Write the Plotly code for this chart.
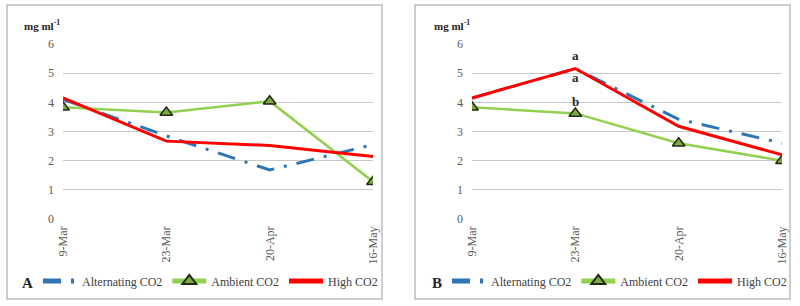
import plotly.graph_objects as go

dates = ["9-Mar", "23-Mar", "20-Apr", "16-May"]
y_ticks = [0, 1, 2, 3, 4, 5, 6]

# Panel A
a_alternating = [4.10, 2.85, 1.68, 2.55]
a_ambient = [3.83, 3.65, 4.04, 1.28]
a_high = [4.15, 2.67, 2.52, 2.14]

# Panel B
b_alternating = [4.15, 5.15, 3.42, 2.60]
b_ambient = [3.83, 3.62, 2.60, 2.00]
b_high = [4.15, 5.16, 3.18, 2.20]

series_names = ["Alternating CO2", "Ambient CO2", "High CO2"]
b_letters = ["a", "a", "b"]

W, H = 800, 306
def px(x):
    return x / W
def py(y):
    return (H - y) / H

SERIF = "Liberation Serif, Times New Roman, serif"
BLUE = "#2E75B6"
GREEN = "#92D050"
RED = "#FF0000"

fig = go.Figure()

def add_panel(alt, amb, high, xa, ya, legend):
    fig.add_trace(go.Scatter(x=dates, y=alt, mode="lines", name=series_names[0],
                             line=dict(color=BLUE, width=3, dash="18px,10px,3px,10px"),
                             xaxis=xa, yaxis=ya, legend=legend))
    fig.add_trace(go.Scatter(x=dates, y=amb, mode="lines+markers", name=series_names[1],
                             line=dict(color=GREEN, width=2.5),
                             marker=dict(symbol="triangle-up", size=11, color="#7FA840",
                                         line=dict(color="#1f2a10", width=1.5)),
                             xaxis=xa, yaxis=ya, legend=legend))
    fig.add_trace(go.Scatter(x=dates, y=high, mode="lines", name=series_names[2],
                             line=dict(color=RED, width=3),
                             xaxis=xa, yaxis=ya, legend=legend))

add_panel(a_alternating, a_ambient, a_high, "x", "y", "legend")
add_panel(b_alternating, b_ambient, b_high, "x2", "y2", "legend2")

ydom = [py(219), py(44)]
axis_common_x = dict(type="category", range=[0, 3], showgrid=False, showline=False,
                     zeroline=False, tickangle=-90, ticks="", automargin=False,
                     ticklabelstandoff=4,
                     tickfont=dict(family=SERIF, size=12, color="#595959"))
axis_common_y = dict(range=[0, 6], tickvals=y_ticks, showgrid=True, gridcolor="#C8C8C8",
                     gridwidth=1, zeroline=False, showline=False, ticks="", automargin=False,
                     ticklabelstandoff=8,
                     tickfont=dict(family=SERIF, size=12, color="#595959"))

legend_common = dict(orientation="h", xanchor="left", yanchor="middle",
                     font=dict(family=SERIF, size=12, color="#404040"),
                     bgcolor="rgba(0,0,0,0)", itemwidth=34, tracegroupgap=0,
                     itemsizing="constant")

fig.update_layout(
    template="none",
    width=W, height=H,
    margin=dict(l=0, r=0, t=0, b=0, autoexpand=False),
    paper_bgcolor="white", plot_bgcolor="white",
    hovermode=False,
    xaxis=dict(domain=[px(63), px(373)], anchor="y", **axis_common_x),
    yaxis=dict(domain=ydom, anchor="x", **axis_common_y),
    xaxis2=dict(domain=[px(472), px(782)], anchor="y2", **axis_common_x),
    yaxis2=dict(domain=ydom, anchor="x2", **axis_common_y),
    legend=dict(x=px(38), y=py(281), **legend_common),
    legend2=dict(x=px(447), y=py(281), **legend_common),
    showlegend=True,
)

# Panel borders
for x0, x1 in [(7, 382), (415, 790)]:
    fig.add_shape(type="rect", xref="paper", yref="paper",
                  x0=px(x0), x1=px(x1), y0=py(299), y1=py(5),
                  line=dict(color="#BFBFBF", width=1.5), fillcolor="rgba(0,0,0,0)")

# Unit labels
for xpos in [22, 432]:
    fig.add_annotation(xref="paper", yref="paper", x=px(xpos), y=py(25),
                       text="<b>mg ml<sup>-1</sup></b>", showarrow=False,
                       xanchor="left", yanchor="middle",
                       font=dict(family=SERIF, size=11, color="#262626"))

# Panel letters
for xpos, letter in [(27, "A"), (437, "B")]:
    fig.add_annotation(xref="paper", yref="paper", x=px(xpos), y=py(283),
                       text="<b>" + letter + "</b>", showarrow=False,
                       xanchor="center", yanchor="middle",
                       font=dict(family=SERIF, size=15, color="#262626"))

# Significance letters in panel B at 23-Mar
letter_vals = [b_high[1], b_alternating[1], b_ambient[1]]
letter_shift = [13, -9, 12]
for lt, val, sh in zip(b_letters, letter_vals, letter_shift):
    fig.add_annotation(xref="x2", yref="y2", x=dates[1], y=val, text="<b>" + lt + "</b>",
                       showarrow=False, yshift=sh, xanchor="center", yanchor="middle",
                       font=dict(family=SERIF, size=13, color="#262626"))

fig.write_html("out.html", config={"displayModeBar": False},
               post_script="document.body.style.margin='0px';document.body.style.overflow='hidden';")
